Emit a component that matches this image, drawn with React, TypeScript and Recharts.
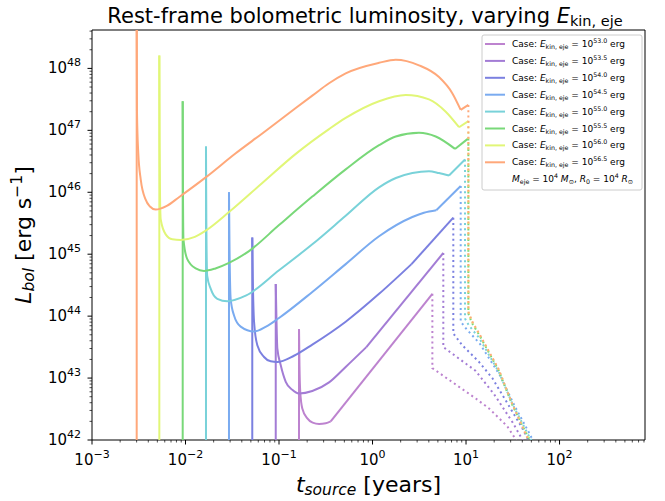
import React from 'react';
import { LineChart, Line, XAxis, YAxis, ReferenceArea, Customized } from 'recharts';

const FONT = '"DejaVu Sans", sans-serif';

// log10 of E_kin,eje [erg] for each case, and the colour used for it
const caseLabels = ['53.0', '53.5', '54.0', '54.5', '55.0', '55.5', '56.0', '56.5'];
const caseColors = ['#bd83cf', '#a37cd5', '#7b80e0', '#7aabf0', '#79d2d9', '#79d879', '#e1f677', '#ffa87a'];

// as [log10 t_source (yr), log10 L_bol (erg/s)]
// curve: from the spike top down to the minimum and up to the kink (smooth)
// tail: straight piece from the kink to the end of the solid line
// dotted: the dotted continuation
const curve530: [number, number][] = [
  [-0.786, 43.79], [-0.781, 43.2], [-0.773, 42.78], [-0.751, 42.51], [-0.697, 42.35],
  [-0.64, 42.28], [-0.572, 42.26], [-0.5, 42.27], [-0.447, 42.3],
];
const tail530: [number, number][] = [[-0.447, 42.3], [0.64, 44.36]];
const dotted530: [number, number][] = [
  [0.64, 44.36], [0.64, 43.16], [1.104, 42.67], [1.246, 42.51], [1.442, 42.22], [1.62, 41.8],
];

const curve535: [number, number][] = [
  [-1.035, 44.52], [-1.028, 44.0], [-1.018, 43.48], [-0.982, 43.21], [-0.928, 42.94],
  [-0.858, 42.81], [-0.786, 42.75], [-0.644, 42.79], [-0.465, 42.93], [-0.287, 43.18], [-0.066, 43.5],
];
const tail535: [number, number][] = [[-0.066, 43.5], [0.757, 45.02]];
const dotted535: [number, number][] = [
  [0.757, 45.02], [0.757, 43.5], [1.1, 43.12], [1.3, 42.74], [1.5, 42.28], [1.66, 41.85],
];

const curve540: [number, number][] = [
  [-1.286, 45.27], [-1.28, 44.6], [-1.267, 43.91], [-1.232, 43.53], [-1.16, 43.34],
  [-1.089, 43.27], [-1.018, 43.26], [-0.84, 43.36], [-0.644, 43.54], [-0.287, 43.91], [0.07, 44.36],
  [0.417, 44.84],
];
const tail540: [number, number][] = [[0.417, 44.84], [0.864, 45.59]];
const dotted540: [number, number][] = [
  [0.864, 45.59], [0.864, 43.72], [0.96, 43.53], [1.139, 43.26], [1.281, 43.0], [1.388, 42.73],
  [1.495, 42.46], [1.602, 42.19], [1.7, 41.9],
];

const curve545: [number, number][] = [
  [-1.535, 46.0], [-1.53, 45.2], [-1.517, 44.28], [-1.481, 44.01], [-1.41, 43.83],
  [-1.267, 43.75], [-1.139, 43.83], [-1.0, 43.97], [-0.644, 44.39], [-0.287, 44.84], [0.07, 45.29],
  [0.426, 45.6], [0.55, 45.67], [0.682, 45.71],
];
const tail545: [number, number][] = [[0.682, 45.71], [0.943, 46.1]];
const dotted545: [number, number][] = [
  [0.943, 46.1], [0.943, 43.91], [1.0, 43.8], [1.15, 43.55], [1.36, 43.05], [1.52, 42.55],
  [1.68, 42.1], [1.76, 41.85],
];

const curve550: [number, number][] = [
  [-1.781, 46.74], [-1.777, 45.5], [-1.768, 44.65], [-1.73, 44.44], [-1.66, 44.28],
  [-1.553, 44.24], [-1.356, 44.33], [-1.0, 44.74], [-0.644, 45.16], [-0.287, 45.62], [0.07, 46.08],
  [0.25, 46.23], [0.426, 46.31], [0.604, 46.34], [0.711, 46.31], [0.818, 46.27],
];
const tail550: [number, number][] = [[0.818, 46.27], [0.989, 46.53]];
const dotted550: [number, number][] = [
  [0.989, 46.53], [0.989, 43.96], [1.03, 43.85], [1.14, 43.65], [1.35, 43.1], [1.5, 42.57],
  [1.66, 42.1], [1.74, 41.88],
];

const curve555: [number, number][] = [
  [-2.03, 47.47], [-2.027, 46.0], [-2.022, 45.24], [-1.981, 44.92], [-1.891, 44.77],
  [-1.802, 44.73], [-1.68, 44.77], [-1.535, 44.86], [-1.321, 45.05], [-1.0, 45.47], [-0.644, 45.93],
  [-0.287, 46.37], [0.07, 46.76], [0.248, 46.9], [0.497, 46.96], [0.676, 46.9], [0.882, 46.7],
];
const tail555: [number, number][] = [[0.882, 46.7], [1.025, 46.87]];
const dotted555: [number, number][] = [
  [1.025, 46.87], [1.025, 44.04], [1.06, 43.9], [1.14, 43.7], [1.35, 43.12], [1.49, 42.58],
  [1.64, 42.12], [1.72, 41.9],
];

const curve560: [number, number][] = [
  [-2.28, 48.21], [-2.277, 46.8], [-2.272, 45.9], [-2.265, 45.56], [-2.212, 45.32],
  [-2.141, 45.24], [-2.051, 45.23], [-1.9, 45.28], [-1.784, 45.38], [-1.535, 45.68], [-1.179, 46.15],
  [-0.821, 46.62], [-0.465, 47.02], [-0.287, 47.2], [0.07, 47.47], [0.355, 47.57], [0.604, 47.5],
  [0.783, 47.3], [0.925, 47.05],
];
const tail560: [number, number][] = [[0.925, 47.05], [1.025, 47.15]];
const dotted560: [number, number][] = [
  [1.025, 47.15], [1.025, 44.07], [1.06, 43.92], [1.14, 43.71], [1.35, 43.13], [1.49, 42.6],
  [1.63, 42.14], [1.71, 41.9],
];

const curve565: [number, number][] = [
  [-2.522, 48.95], [-2.519, 47.3], [-2.505, 46.63], [-2.479, 46.21], [-2.426, 45.88],
  [-2.38, 45.77], [-2.319, 45.72], [-2.2, 45.78], [-2.07, 45.92], [-1.784, 46.24], [-1.463, 46.63],
  [-1.179, 46.95], [-0.821, 47.36], [-0.644, 47.56], [-0.465, 47.76], [-0.287, 47.92], [0.07, 48.09],
  [0.248, 48.14], [0.497, 48.05], [0.711, 47.86], [0.853, 47.6], [0.943, 47.33],
];
const tail565: [number, number][] = [[0.943, 47.33], [1.025, 47.41]];
const dotted565: [number, number][] = [
  [1.025, 47.41], [1.025, 44.07], [1.07, 43.9], [1.14, 43.72], [1.35, 43.14], [1.49, 42.6],
  [1.62, 42.15], [1.7, 41.9],
];

const curveSets = [curve530, curve535, curve540, curve545, curve550, curve555, curve560, curve565];
const tailSets = [tail530, tail535, tail540, tail545, tail550, tail555, tail560, tail565];
const dottedSets = [dotted530, dotted535, dotted540, dotted545, dotted550, dotted555, dotted560, dotted565];

// axis limits and major tick exponents
const xMin = 1e-3;
const xMax = 10 ** 2.914;
const yMin = 1e42;
const yMax = 10 ** 48.62;
const xMajorExp = [-3, -2, -1, 0, 1, 2];
const yMajorExp = [42, 43, 44, 45, 46, 47, 48];

const toPoints = (pairs: [number, number][]) => pairs.map(([lt, lL]) => ({ t: 10 ** lt, L: 10 ** lL }));
// the vertical rise at the start time, from below the axis up to the spike top
const spikeOf = (curve: [number, number][]) =>
  toPoints([[curve[0][0], 40], curve[0]]);

const logTicks = (exps: number[], max: number) => {
  const out: number[] = [];
  exps.forEach((e) => {
    for (let m = 1; m <= 9; m++) {
      const v = m * 10 ** e;
      if (v <= max * 1.0001) out.push(v);
    }
  });
  return out;
};
const xTicks = logTicks(xMajorExp, xMax);
const yTicks = logTicks(yMajorExp, yMax);

const isMajor = (v: number) => {
  const lg = Math.log10(v);
  return Math.abs(lg - Math.round(lg)) < 1e-9;
};
const expText = (v: number) => {
  const e = Math.round(Math.log10(v));
  return e < 0 ? `\u2212${-e}` : `${e}`;
};

const XTick = (props: any) => {
  const { x, y, payload } = props;
  const major = isMajor(payload.value);
  return (
    <g>
      <line x1={x} x2={x} y1={y} y2={y + (major ? 4.5 : 2.5)} stroke="#000" strokeWidth={major ? 1 : 0.7} />
      {major && (
        <text x={x} y={y + 25} textAnchor="middle" fontFamily={FONT} fontSize={15} fill="#000">
          10<tspan dy={-7} fontSize={11}>{expText(payload.value)}</tspan>
        </text>
      )}
    </g>
  );
};

const YTick = (props: any) => {
  const { x, y, payload } = props;
  const major = isMajor(payload.value);
  return (
    <g>
      <line x1={x} x2={x - (major ? 4.5 : 2.5)} y1={y} y2={y} stroke="#000" strokeWidth={major ? 1 : 0.7} />
      {major && (
        <text x={x - 11} y={y + 5} textAnchor="end" fontFamily={FONT} fontSize={15} fill="#000">
          10<tspan dy={-7} fontSize={11}>{expText(payload.value)}</tspan>
        </text>
      )}
    </g>
  );
};

const Overlay = () => {
  const lx = 482;
  const ly = 35;
  return (
    <g fontFamily={FONT} fill="#000">
      <text x={365} y={23} textAnchor="middle" fontSize={21}>
        Rest-frame bolometric luminosity, varying <tspan fontStyle="italic">E</tspan>
        <tspan fontSize={14.5} dy={3}>kin, eje</tspan>
      </text>
      <text x={368.5} y={492} textAnchor="middle" fontSize={22}>
        <tspan fontStyle="italic">t</tspan>
        <tspan fontStyle="italic" fontSize={15.5} dy={3}>source</tspan>
        <tspan dy={-3}> [years]</tspan>
      </text>
      <text transform="translate(31,235) rotate(-90)" textAnchor="middle" fontSize={22}>
        <tspan fontStyle="italic">L</tspan>
        <tspan fontStyle="italic" fontSize={15.5} dy={3}>bol</tspan>
        <tspan dy={-3}> [erg s</tspan>
        <tspan fontSize={15.5} dy={-9}>{'\u22121'}</tspan>
        <tspan dy={9}>]</tspan>
      </text>
      <rect x={lx} y={ly} width={160} height={155} rx={2} fill="#fff" fillOpacity={0.85} stroke="#cccccc" strokeWidth={1} />
      {caseLabels.map((lab, i) => {
        const ry = ly + 9 + i * 16.9;
        return (
          <g key={lab}>
            <line x1={lx + 3} x2={lx + 23} y1={ry} y2={ry} stroke={caseColors[i]} strokeWidth={2} />
            <text x={lx + 30} y={ry + 3} fontSize={9}>
              Case: <tspan fontStyle="italic">E</tspan>
              <tspan fontSize={6.3} dy={2}>kin, eje</tspan>
              <tspan dy={-2}> = 10</tspan>
              <tspan fontSize={6.3} dy={-4}>{lab}</tspan>
              <tspan dy={4}> erg</tspan>
            </text>
          </g>
        );
      })}
      <text x={lx + 30} y={ly + 9 + 8 * 16.9 + 3} fontSize={9}>
        <tspan fontStyle="italic">M</tspan>
        <tspan fontSize={6.3} dy={2}>eje</tspan>
        <tspan dy={-2}> = 10</tspan>
        <tspan fontSize={6.3} dy={-4}>4</tspan>
        <tspan dy={4} fontStyle="italic"> M</tspan>
        <tspan fontSize={6.3} dy={2}>{'\u2299'}</tspan>
        <tspan dy={-2}>, </tspan>
        <tspan fontStyle="italic">R</tspan>
        <tspan fontSize={6.3} dy={2}>0</tspan>
        <tspan dy={-2}> = 10</tspan>
        <tspan fontSize={6.3} dy={-4}>4</tspan>
        <tspan dy={4} fontStyle="italic"> R</tspan>
        <tspan fontSize={6.3} dy={2}>{'\u2299'}</tspan>
      </text>
    </g>
  );
};

export default function App() {
  return (
    <div style={{ position: 'absolute', left: 0, top: 0, width: 665, height: 501, background: '#fff' }}>
      <LineChart width={665} height={501} margin={{ top: 30, right: 20, bottom: 0, left: 0 }}>
        <XAxis
          dataKey="t"
          type="number"
          scale="log"
          domain={[xMin, xMax]}
          allowDataOverflow
          ticks={xTicks}
          interval={0}
          tickLine={false}
          tickSize={0}
          tickMargin={0}
          tick={<XTick />}
          axisLine={false}
          height={61}
        />
        <YAxis
          dataKey="L"
          type="number"
          scale="log"
          domain={[yMin, yMax]}
          allowDataOverflow
          ticks={yTicks}
          interval={0}
          tickLine={false}
          tickSize={0}
          tickMargin={0}
          tick={<YTick />}
          axisLine={false}
          width={92}
        />
        {curveSets.map((c, i) => {
          const common = {
            dataKey: 'L',
            stroke: caseColors[i],
            strokeWidth: 2,
            dot: false,
            activeDot: false,
            isAnimationActive: false,
          };
          return [
            <Line key={`sp${i}`} data={spikeOf(c)} type="linear" {...common} />,
            <Line key={`c${i}`} data={toPoints(c)} type="monotoneX" {...common} />,
            <Line key={`t${i}`} data={toPoints(tailSets[i])} type="linear" {...common} />,
            <Line key={`d${i}`} data={toPoints(dottedSets[i])} type="linear" strokeDasharray="2 3.3" {...common} />,
          ];
        })}
        <ReferenceArea x1={xMin} x2={xMax} y1={yMin} y2={yMax} fill="none" stroke="#000" strokeWidth={1} ifOverflow="visible" />
        <Customized component={Overlay} />
      </LineChart>
    </div>
  );
}
